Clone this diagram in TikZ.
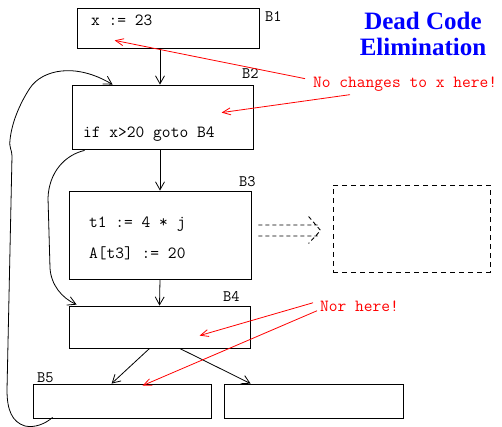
\documentclass[tikz,border=0pt]{standalone}
\usepackage{fontspec}
\setmainfont{Liberation Serif}
\setmonofont{Latin Modern Mono}
\usetikzlibrary{arrows.meta,calc}
\definecolor{noteRed}{RGB}{255,0,0}
\definecolor{titleBlue}{RGB}{0,0,255}
\tikzset{
  block/.style={draw, line width=0.8pt, inner sep=0pt, anchor=center},
  ghost/.style={draw, line width=0.8pt, inner sep=0pt, dash pattern=on 5pt off 4pt},
  code/.style={font=\ttfamily\fontsize{17}{17}\selectfont, inner sep=0pt, anchor=base west},
  blabel/.style={font=\ttfamily\fontsize{16}{16}\selectfont, inner sep=0pt, anchor=base west},
  note/.style={font=\ttfamily\fontsize{17}{17}\selectfont, text=noteRed, inner sep=0pt, anchor=base west},
  title/.style={font=\bfseries\fontsize{25}{25}\selectfont, text=titleBlue, inner sep=0pt, anchor=base},
  flow/.style={line width=0.8pt, -{Straight Barb[length=8pt,width=9pt]}},
  pointer/.style={draw=noteRed, line width=0.8pt, -{Straight Barb[length=8pt,width=7pt]}},
}
\begin{document}
\begin{tikzpicture}[x=1pt,y=-1pt]
\useasboundingbox (0,0) rectangle (502,427);

% basic blocks
\node[block, minimum width=182pt, minimum height=40pt] (B1) at (168,28) {};
\node[block, minimum width=181pt, minimum height=64pt] (B2) at (162.5,117) {};
\node[block, minimum width=182pt, minimum height=88pt] (B3) at (160,235) {};
\node[block, minimum width=181pt, minimum height=42pt] (B4) at (159.5,327) {};
\node[block, minimum width=178pt, minimum height=34pt] (B5) at (122,401) {};
\node[block, minimum width=179pt, minimum height=34pt] (B6) at (313.5,401) {};
\node[ghost, minimum width=157pt, minimum height=87pt] (opt) at (411.5,228.5) {};

% block names
\node[blabel] (l1) at (265,22) {B1};
\node[blabel] (l2) at (242,79) {B2};
\node[blabel] (l3) at (239,187) {B3};
\node[blabel] (l4) at (223,301) {B4};
\node[blabel] (l5) at (37,382) {B5};

% statements
\node[code] (s1) at (91,26) {x := 23};
\node[code] (s2) at (83,138) {if x>20 goto B4};
\node[code] (s3) at (89,228) {t1 := 4 * j};
\node[code] (s4) at (89,258) {A[t3] := 20};

% title
\node[title] (t1) at (423,30) {Dead Code};
\node[title] (t2) at (423,56) {Elimination};

% remarks
\node[note] (n1) at (313,88) {No changes to x here!};
\node[note] (n2) at (320,311) {Nor here!};

% control flow
\draw[flow] (160,48) -- (B2.north -| 160,0);
\draw[flow] (B3.north |- B2.south) -- (B3.north);
\draw[flow] (B3.south) -- (B4.north);
\draw[flow] ($(B4.south west)+(81,0)$) -- ($(B5.north west)+(79,0)$);
\draw[flow] ($(B4.south west)+(111,0)$) -- ($(B6.north west)+(27,0)$);

% back edge B5 -> B2
\draw[flow] ($(B5.south west)+(20,-1)$)
  .. controls (45,424) and (35,428) .. (25,426)
  .. controls (12,422) and (7,410) .. (7,390)
  -- (12,156)
  .. controls (12,150) and (9,148) .. (10,140)
  .. controls (12,120) and (22,100) .. (30,88)
  .. controls (42,70) and (75,62) .. ($(B2.north west)+(41,0)$);

% jump B2 -> B4
\draw[flow] ($(B2.south west)+(13,1)$)
  .. controls (65,155) and (49,172) .. (48,198)
  -- (50,268)
  .. controls (51,285) and (62,298) .. ($(B4.north west)+(8,-1)$);

% transformation arrow towards the optimised block
\coordinate (ds) at ($(B3.east)+(7,-4.5)$);
\coordinate (dt) at ($(opt.west)+(-12,2)$);
\draw[line width=0.9pt, dash pattern=on 4pt off 3pt]
  ($(ds)+(0,-5.5)$) -- ($(dt)+(-3,-5.5)$)
  ($(ds)+(0,5.5)$) -- ($(dt)+(-3,5.5)$)
  ($(dt)+(-12,-14)$) -- (dt) -- ($(dt)+(-12,13)$);

% remark pointers
\draw[pointer] ($(n1.west)+(-8,-6)$) -- ($(B1.south west)+(38,-8)$);
\draw[pointer] ($(n1.west)+(37,10)$) -- ($(B2.north west)+(150,28)$);
\draw[pointer] ($(n2.west)+(-7,-3)$) -- ($(B4.north west)+(131,30)$);
\draw[pointer] ($(n2.west)+(-3,5)$) -- ($(B5.north west)+(110,2)$);
\end{tikzpicture}
\end{document}
